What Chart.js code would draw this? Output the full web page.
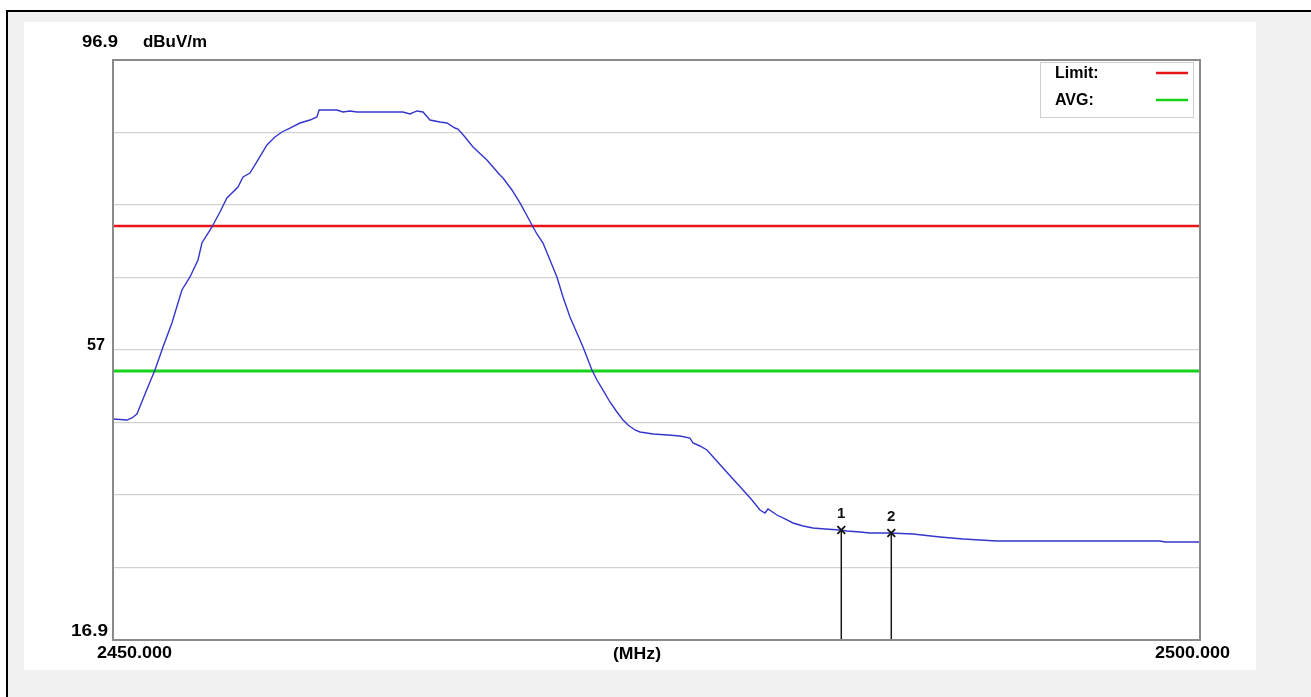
<!DOCTYPE html>
<html>
<head>
<meta charset="utf-8">
<script src="https://cdn.jsdelivr.net/npm/chart.js@4.4.1/dist/chart.umd.min.js"></script>
<style>
  html, body { margin: 0; padding: 0; background: #fff; overflow: hidden; }
  #wrap { width: 1311px; height: 697px; position: relative; }
</style>
</head>
<body>
<div id="wrap"><canvas id="graph"></canvas></div>
<script>
// 周波数 (MHz) と測定レベル (dBuV/m)
var freqMHz = [
  2450.00, 2450.64, 2450.87, 2451.10, 2451.38, 2451.70, 2451.93, 2452.30, 2452.71, 2453.17,
  2453.54, 2453.91, 2454.09, 2454.46, 2454.60, 2454.92, 2455.24, 2455.75, 2455.98, 2456.30,
  2456.67, 2457.08, 2457.45, 2457.77, 2458.14, 2458.60, 2459.06, 2459.38, 2459.48, 2459.89,
  2460.30, 2460.58, 2460.90, 2461.22, 2462.28, 2463.34, 2463.66, 2463.98, 2464.26, 2464.58,
  2465.04, 2465.36, 2465.73, 2465.87, 2466.19, 2466.56, 2467.20, 2467.80, 2467.94, 2468.35,
  2468.72, 2469.00, 2469.27, 2469.50, 2469.78, 2470.10, 2470.42, 2470.70, 2471.02, 2471.34,
  2471.62, 2472.03, 2472.26, 2472.54, 2472.86, 2473.18, 2473.46, 2473.69, 2474.01, 2474.24,
  2474.84, 2475.53, 2476.08, 2476.54, 2476.68, 2477.00, 2477.32, 2477.69, 2478.06, 2478.52,
  2478.98, 2479.39, 2479.76, 2479.99, 2480.13, 2480.54, 2480.91, 2481.28, 2481.74, 2482.20,
  2482.75, 2483.44, 2483.76, 2484.36, 2484.82, 2485.74, 2486.80, 2488.04, 2489.10, 2490.66,
  2493.10, 2495.40, 2498.16, 2498.39, 2500.00
];
var levelDbuv = [
  47.38, 47.24, 47.52, 48.07, 50.14, 52.49, 54.14, 57.31, 60.62, 65.18,
  66.97, 69.31, 71.66, 73.45, 74.14, 75.93, 77.87, 79.38, 80.76, 81.31,
  83.11, 85.18, 86.28, 86.97, 87.52, 88.21, 88.62, 89.04, 90.00, 90.00,
  90.00, 89.73, 89.87, 89.73, 89.73, 89.73, 89.45, 89.87, 89.73, 88.62,
  88.35, 88.21, 87.52, 87.38, 86.28, 84.90, 83.11, 81.04, 80.62, 78.97,
  77.18, 75.66, 74.14, 72.90, 71.66, 69.31, 66.97, 64.21, 61.45, 59.24,
  57.31, 54.14, 52.76, 51.38, 49.73, 48.35, 47.24, 46.56, 45.87, 45.59,
  45.31, 45.18, 45.04, 44.76, 44.07, 43.66, 43.11, 41.87, 40.62, 39.11,
  37.59, 36.21, 34.83, 34.42, 34.97, 34.14, 33.59, 33.04, 32.62, 32.35,
  32.21, 32.07, 31.93, 31.80, 31.66, 31.66, 31.52, 31.11, 30.83, 30.56,
  30.56, 30.56, 30.56, 30.42, 30.42
];

// リミット線
var limitLevel = 74;
var avgLevel = 54;
var spanMHz = [2450, 2500];

// マーカー
var markerFreqs = [2483.5, 2485.8];
var markerLevels = [32.07, 31.66];
var markerNames = ['1', '2'];

// 目盛り
var yMin = 16.9, yMax = 96.9;
var yTicks = [16.9, 26.9, 36.9, 46.9, 56.9, 66.9, 76.9, 86.9, 96.9];
var yTickLabels = ['16.9', '', '', '', '57', '', '', '', '96.9'];
var xTickLabels = ['2450.000', '2500.000'];
var unitY = 'dBuV/m';
var unitX = '(MHz)';
var legendNames = ['Limit:', 'AVG:'];

var FAM = '"Liberation Sans", Arial, sans-serif';

function pts(xs, ys) {
  return xs.map(function (x, i) { return { x: x, y: ys[i] }; });
}

// 横方向だけ広げて文字を書く
function wideText(c, txt, x, y, w, align) {
  var m = c.measureText(txt).width;
  var s = w / m;
  c.save();
  c.textAlign = 'left';
  var x0 = align === 'right' ? x - w : x;
  c.translate(x0, y);
  c.scale(s, 1);
  c.fillText(txt, 0, 0);
  c.restore();
}

var decor = {
  id: 'decor',
  beforeDraw: function (chart) {
    var c = chart.ctx;
    c.save();
    c.fillStyle = '#f1f1f1';
    c.fillRect(8, 12, chart.width, chart.height);
    c.fillStyle = '#ffffff';
    c.fillRect(24, 22, 1232, 648);
    c.strokeStyle = '#000';
    c.lineWidth = 2;
    c.beginPath();
    c.moveTo(7, chart.height);
    c.lineTo(7, 11);
    c.lineTo(chart.width, 11);
    c.stroke();
    c.restore();
  },
  afterDatasetsDraw: function (chart) {
    var c = chart.ctx;
    var xs = chart.scales.x, ys = chart.scales.y;
    var a = chart.chartArea;
    c.save();
    // マーカーの縦線と番号
    c.strokeStyle = '#1a1a1a';
    c.lineWidth = 1.5;
    c.fillStyle = '#111';
    c.font = 'bold 15px ' + FAM;
    c.textAlign = 'center';
    c.textBaseline = 'middle';
    markerFreqs.forEach(function (f, i) {
      var px = xs.getPixelForValue(f);
      var py = ys.getPixelForValue(markerLevels[i]);
      c.beginPath();
      c.moveTo(px, py);
      c.lineTo(px, a.bottom);
      c.stroke();
      c.fillText(markerNames[i], px, py - 16);
    });

    // 枠
    c.strokeStyle = '#8a8a8a';
    c.lineWidth = 2;
    c.strokeRect(a.left, a.top, a.right - a.left, a.bottom - a.top);

    // 凡例
    c.fillStyle = '#fff';
    c.fillRect(1040, 62, 153, 55);
    c.strokeStyle = '#cfcfcf';
    c.lineWidth = 1;
    c.strokeRect(1040.5, 62.5, 153, 55);
    c.font = 'bold 16px ' + FAM;
    c.textAlign = 'left';
    c.fillStyle = '#000';
    var legColors = ['#e8161b', '#16d21a'];
    var legY = [74, 101];
    legendNames.forEach(function (n, i) {
      c.fillText(n, 1055, legY[i]);
      c.strokeStyle = legColors[i];
      c.lineWidth = 2.5;
      c.beginPath();
      c.moveTo(1156, legY[i] - 1);
      c.lineTo(1188, legY[i] - 1);
      c.stroke();
    });

    // 軸ラベル
    c.fillStyle = '#000';
    c.textBaseline = 'middle';
    c.font = 'bold 16px ' + FAM;
    wideText(c, yTickLabels[8], 82, 43, 36, 'left');
    wideText(c, unitY, 143, 43, 64, 'left');
    wideText(c, yTickLabels[4], 105, 346, 18, 'right');
    wideText(c, yTickLabels[0], 108, 632, 37, 'right');
    wideText(c, xTickLabels[0], 97, 654, 75, 'left');
    wideText(c, unitX, 613, 655, 48, 'left');
    wideText(c, xTickLabels[1], 1230, 654, 75, 'right');
    c.restore();
  }
};

var ctx = document.getElementById('graph');

var chart = new Chart(ctx, {
  type: 'line',
  data: {
    datasets: [
      {
        label: 'Level',
        data: pts(freqMHz, levelDbuv),
        borderColor: '#3535cc',
        borderWidth: 1.4,
        pointRadius: 0,
        tension: 0,
        order: 1
      },
      {
        label: 'Limit',
        data: pts(spanMHz, [limitLevel, limitLevel]),
        borderColor: '#e8161b',
        borderWidth: 2.5,
        pointRadius: 0,
        order: 2
      },
      {
        label: 'AVG',
        data: pts(spanMHz, [avgLevel, avgLevel]),
        borderColor: '#16d21a',
        borderWidth: 3,
        pointRadius: 0,
        order: 3
      },
      {
        label: 'Marker',
        data: pts(markerFreqs, markerLevels),
        showLine: false,
        pointStyle: 'crossRot',
        pointRadius: 5.5,
        pointBorderWidth: 1.8,
        pointBorderColor: '#111',
        order: 0
      }
    ]
  },
  options: {
    responsive: true,
    maintainAspectRatio: false,
    animation: false,
    layout: { padding: { left: 113, top: 60, right: 111, bottom: 57 } },
    plugins: {
      legend: { display: false },
      tooltip: { enabled: false }
    },
    scales: {
      x: {
        type: 'linear',
        min: spanMHz[0],
        max: spanMHz[1],
        grid: { display: false, drawTicks: false },
        border: { display: false },
        ticks: { display: false }
      },
      y: {
        min: yMin,
        max: yMax,
        afterBuildTicks: function (scale) {
          scale.ticks = yTicks.map(function (v) { return { value: v }; });
        },
        grid: { color: '#d2d2d2', lineWidth: 1.2, drawTicks: false },
        border: { display: false },
        ticks: { display: false }
      }
    }
  },
  plugins: [decor]
});
</script>
</body>
</html>
